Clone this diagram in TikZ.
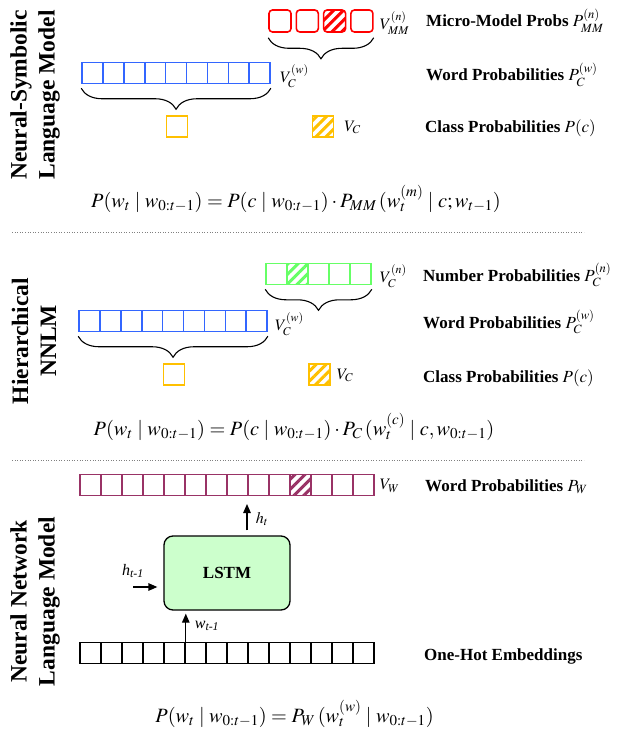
\documentclass[tikz,border=0pt]{standalone}
\usepackage{mathptmx}
\usepackage{fontspec}
\setmainfont{Liberation Serif}
\usetikzlibrary{arrows.meta,decorations.pathreplacing,patterns.meta}
\definecolor{cred}{RGB}{255,0,0}
\definecolor{cblue}{RGB}{51,102,255}
\definecolor{cgreen}{RGB}{102,255,102}
\definecolor{cgold}{RGB}{255,192,0}
\definecolor{cplum}{RGB}{153,51,102}
\definecolor{clstm}{RGB}{204,255,204}

\begin{document}
\begin{tikzpicture}[x=1pt,y=-1pt,cell/.style={draw=#1,line width=1.6pt,minimum size=21pt,inner sep=0pt},mmcell/.style={cell=cred,minimum size=22pt,rounded corners=3.5pt},hatch/.style={pattern={Lines[angle=45,distance=7pt,line width=3pt]},pattern color=#1},brc/.style={decorate,decoration={brace,amplitude=21pt},line width=1.1pt},lbl/.style={anchor=base west,inner sep=0pt,font=\fontsize{17}{20}\selectfont\bfseries},var/.style={inner sep=0pt,font=\fontsize{16}{19}\selectfont},side/.style={rotate=90,align=center,font=\fontsize{23.5}{28}\selectfont\bfseries},eq/.style={anchor=base,inner sep=0pt,font=\fontsize{20.3}{24}\selectfont},arrow/.style={-{Triangle[length=9pt,width=7.5pt]},line width=1.3pt},sep/.style={gray,dotted,line width=0.6pt}]
\useasboundingbox (0,0) rectangle (622,730);

% neural-symbolic model
\foreach \i in {0,1,3} \node[mmcell] (mm\i) at ({280+27.3*\i},21) {};
\node[mmcell,hatch=cred] (mm2) at (334.6,21) {};
\foreach \i in {0,...,8} \node[cell=cblue,minimum size=20.9pt] (wa\i) at ({92.45+20.9*\i},73) {};
\node[cell=cgold] (ca) at (177,126.5) {};
\node[cell=cgold,hatch=cgold] (cah) at (323,126.5) {};
\draw[brc] ([yshift=-5pt]mm3.south east) -- ([yshift=-5pt]mm0.south west);
\draw[brc] ([yshift=-4pt]wa8.south east) -- ([yshift=-4pt]wa0.south west);
\node[var,anchor=west] (vmm) at ([xshift=6pt,yshift=-2pt]mm3.east) {$V_{MM}^{(n)}$};
\node[var,anchor=west] (vaw) at ([xshift=9pt,yshift=-3pt]wa8.east) {$V_C^{(w)}$};
\node[var,anchor=west] (vac) at ([xshift=10pt,yshift=-1pt]cah.east) {$V_C$};
\node[lbl] (pmm) at (426,27) {Micro-Model Probs $P_{MM}^{(n)}$};
\node[lbl] (paw) at (426,81) {Word Probabilities $P_C^{(w)}$};
\node[lbl] (pac) at (425,133) {Class Probabilities $P(c)$};
\node[side] (ta) at (35,95) {Neural-Symbolic\\Language Model};
\node[eq] (ea) at (296,207) {$P(w_t \mid w_{0{:}t-1}) = P(c \mid w_{0{:}t-1}) \cdot P_{MM}\,(w_t^{(m)} \mid c; w_{t-1})$};
\coordinate (s1l) at (12,232); \coordinate (s1r) at (584,232);
\draw[sep] (s1l) -- (s1r);

% hierarchical model
\foreach \i in {0,2,3,4} \node[cell=cgreen] (nb\i) at ({276.5+21*\i},274) {};
\node[cell=cgreen,hatch=cgreen] (nb1) at (297.5,274) {};
\foreach \i in {0,...,8} \node[cell=cblue,minimum size=20.9pt] (wb\i) at ({89.45+20.9*\i},321) {};
\node[cell=cgold] (cb) at (174,374.5) {};
\node[cell=cgold,hatch=cgold] (cbh) at (319.5,374.5) {};
\draw[brc] ([yshift=-4pt]nb4.south east) -- ([yshift=-4pt]nb0.south west);
\draw[brc] ([yshift=-4pt]wb8.south east) -- ([yshift=-4pt]wb0.south west);
\node[var,anchor=west] (vbn) at ([xshift=8pt,yshift=-2pt]nb4.east) {$V_C^{(n)}$};
\node[var,anchor=west] (vbw) at ([xshift=7pt,yshift=-3pt]wb8.east) {$V_C^{(w)}$};
\node[var,anchor=west] (vbc) at ([xshift=6pt,yshift=-1pt]cbh.east) {$V_C$};
\node[lbl] (pbn) at (423,281) {Number Probabilities $P_C^{(n)}$};
\node[lbl] (pbw) at (423,328) {Word Probabilities $P_C^{(w)}$};
\node[lbl] (pbc) at (423,382) {Class Probabilities $P(c)$};
\node[side] (tb) at (34,341) {Hierarchical\\NNLM};
\node[eq] (eb) at (294,435) {$P(w_t \mid w_{0{:}t-1}) = P(c \mid w_{0{:}t-1}) \cdot P_C\,(w_t^{(c)} \mid c, w_{0{:}t-1})$};
\coordinate (s2l) at (12,460); \coordinate (s2r) at (584,460);
\draw[sep] (s2l) -- (s2r);

% neural network model
\foreach \i in {0,...,9,11,12,13} \node[cell=cplum] (pw\i) at ({90.5+21*\i},485) {};
\node[cell=cplum,hatch=cplum] (pw10) at (300.5,485) {};
\foreach \i in {0,...,13} \node[cell=black] (oh\i) at ({90.5+21*\i},653) {};
\node[draw,line width=1.3pt,fill=clstm,rounded corners=9pt,minimum width=126pt,minimum height=74pt,font=\fontsize{17}{20}\selectfont\bfseries] (lstm) at (227,573) {LSTM};
\coordinate (ht) at (247,504);
\coordinate (hin) at (133,587);
\draw[arrow] ([yshift=5pt]lstm.north -| ht) -- (ht);
\draw[arrow] (hin) -- ([xshift=-6pt]lstm.west |- hin);
\draw[arrow] (oh4.north east) -- ([yshift=-3pt]lstm.south -| oh4.north east);
\node[var] (lht) at (262,519) {$h_t$};
\node[var] (lhin) at (133,571) {\textit{h}\textsubscript{\textit{t-1}}};
\node[var] (lwin) at (207,626) {\textit{w}\textsubscript{\textit{t-1}}};
\node[var,anchor=west] (vw) at ([xshift=5pt,yshift=-1pt]pw13.east) {$V_W$};
\node[lbl] (pw) at (425,491) {Word Probabilities $P_W$};
\node[lbl] (poh) at (424,660) {One-Hot Embeddings};
\node[side] (tc) at (35,601.5) {Neural Network\\Language Model};
\node[eq] (ec) at (294.5,722) {$P(w_t \mid w_{0{:}t-1}) = P_W\,(w_t^{(w)} \mid w_{0{:}t-1})$};
\end{tikzpicture}
\end{document}
